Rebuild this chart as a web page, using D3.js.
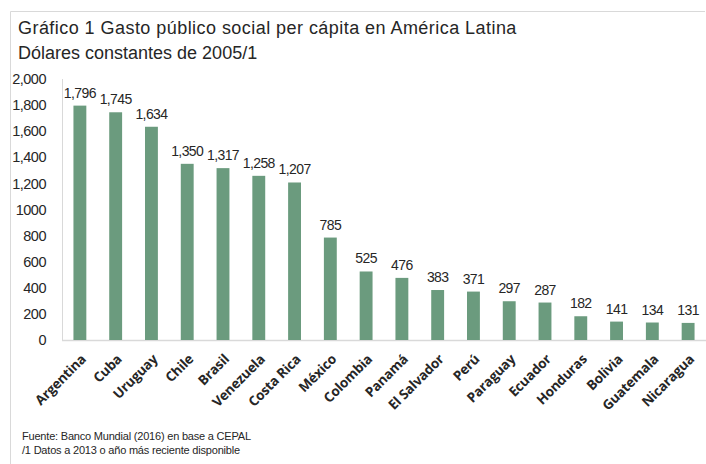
<!DOCTYPE html>
<html>
<head>
<meta charset="utf-8">
<script src="https://cdn.jsdelivr.net/npm/d3@7"></script>
<style>
  html, body { margin: 0; padding: 0; background: #fff; }
  svg { display: block; }
</style>
</head>
<body>
<svg id="chart" width="706" height="464"></svg>
<script>
// Gasto público social per cápita, dólares constantes de 2005
const countries = ["Argentina", "Cuba", "Uruguay", "Chile", "Brasil", "Venezuela", "Costa Rica",
  "México", "Colombia", "Panamá", "El Salvador", "Perú", "Paraguay", "Ecuador", "Honduras",
  "Bolivia", "Guatemala", "Nicaragua"];
const spending = [1796, 1745, 1634, 1350, 1317, 1258, 1207, 785, 525, 476, 383, 371, 297, 287, 182, 141, 134, 131];
const yTicks = [0, 200, 400, 600, 800, 1000, 1200, 1400, 1600, 1800, 2000];
const yTickLabels = ["0", "200", "400", "600", "800", "1000", "1,200", "1,400", "1,600", "1,800", "2,000"];

const svg = d3.select("#chart");
const W = 706, H = 464;
const m = { left: 62, right: 0, top: 79, bottom: 124 };

// outer frame (top and left edges)
svg.append("path")
  .attr("d", `M10.5,${H} V11.5 H705`)
  .attr("fill", "none").attr("stroke", "#d9d9d9").attr("stroke-width", 1);

// titles
const font = "'Liberation Sans', Arial, sans-serif";
svg.append("text").attr("x", 18).attr("y", 34)
  .attr("font-family", font).attr("font-size", 18).attr("fill", "#262626")
  .attr("letter-spacing", 0.45)
  .text("Gráfico 1 Gasto público social per cápita en América Latina");
svg.append("text").attr("x", 18).attr("y", 59)
  .attr("font-family", font).attr("font-size", 18).attr("fill", "#262626")
  .attr("letter-spacing", 0)
  .text("Dólares constantes de 2005/1");

const x = d3.scaleBand().domain(countries).range([m.left, W - m.right]).paddingInner(0.64).paddingOuter(0.32);
const y = d3.scaleLinear().domain([0, 2000]).range([H - m.bottom, m.top]);

// axis lines
svg.append("line").attr("x1", m.left + 0.5).attr("x2", m.left + 0.5)
  .attr("y1", y(2000)).attr("y2", y(0)).attr("stroke", "#d9d9d9");
svg.append("line").attr("x1", m.left).attr("x2", W)
  .attr("y1", y(0) + 0.5).attr("y2", y(0) + 0.5).attr("stroke", "#d9d9d9").attr("stroke-width", 1.5);

// y axis labels
const yAxis = d3.axisLeft(y).tickValues(yTicks).tickSize(0).tickPadding(0)
  .tickFormat((d, i) => yTickLabels[i]);
const gy = svg.append("g").attr("transform", `translate(46,0)`).call(yAxis);
gy.select(".domain").remove();
gy.selectAll("text").attr("font-family", font).attr("font-size", 14.5)
  .attr("fill", "#262626").attr("letter-spacing", -0.5);

// bars
svg.append("g").selectAll("rect").data(countries).join("rect")
  .attr("x", d => x(d))
  .attr("width", x.bandwidth())
  .attr("y", (d, i) => y(spending[i]))
  .attr("height", (d, i) => y(0) - y(spending[i]))
  .attr("fill", "#6b9b7e");

// value labels
svg.append("g").selectAll("text").data(countries).join("text")
  .attr("x", d => x(d) + x.bandwidth() / 2)
  .attr("y", (d, i) => y(spending[i]) - 8)
  .attr("text-anchor", "middle")
  .attr("font-family", font).attr("font-size", 14).attr("fill", "#262626")
  .attr("letter-spacing", -0.6)
  .text((d, i) => d3.format(",")(spending[i]));

// category labels
svg.append("g").selectAll("text").data(countries).join("text")
  .attr("transform", d => `translate(${x(d) + x.bandwidth() / 2 + 7},${y(0) + 20}) rotate(-45)`)
  .attr("text-anchor", "end")
  .attr("font-family", "'Open Sans', sans-serif").attr("font-weight", "bold")
  .attr("font-size", 13.5).attr("fill", "#262626")
  .attr("letter-spacing", -0.2)
  .text(d => d);

// notes
svg.append("text").attr("x", 22).attr("y", 440)
  .attr("font-family", font).attr("font-size", 11).attr("fill", "#262626")
  .attr("letter-spacing", -0.2)
  .text("Fuente: Banco Mundial (2016) en base a CEPAL");
svg.append("text").attr("x", 22).attr("y", 454)
  .attr("font-family", font).attr("font-size", 11).attr("fill", "#262626")
  .attr("letter-spacing", -0.2)
  .text("/1 Datos a 2013 o año más reciente disponible");
</script>
</body>
</html>
